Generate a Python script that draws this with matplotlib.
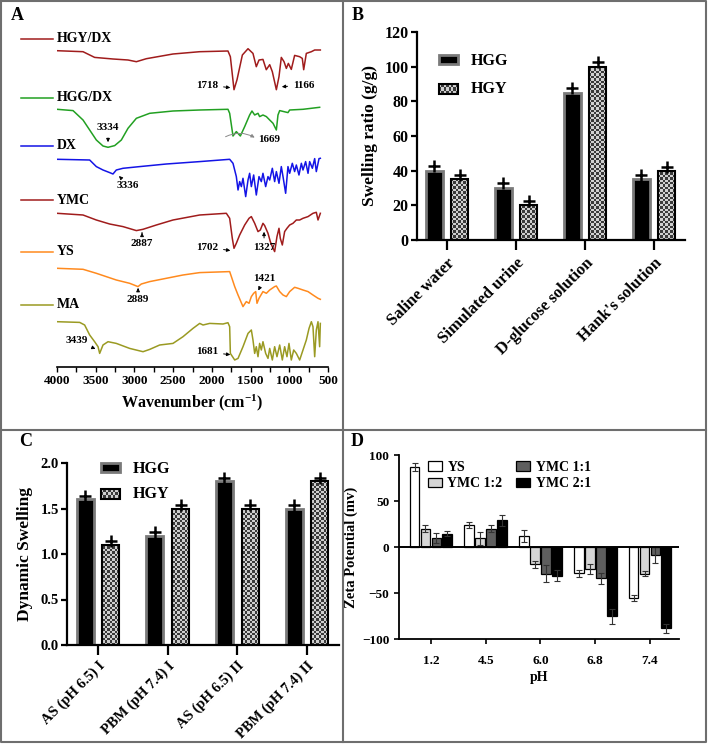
import numpy as np
import matplotlib
matplotlib.use('Agg')
import matplotlib.pyplot as plt
from matplotlib.lines import Line2D
from matplotlib.patches import Rectangle, Patch
from matplotlib.colors import ListedColormap

plt.rcParams['font.family'] = ['Liberation Serif', 'DejaVu Serif']
plt.rcParams['font.weight'] = 'bold'
plt.rcParams['axes.labelweight'] = 'bold'
plt.rcParams['mathtext.fontset'] = 'custom'
plt.rcParams['mathtext.rm'] = 'Liberation Serif:bold'
plt.rcParams['mathtext.default'] = 'rm'

# ---------------- data ----------------
# panel A : FTIR spectra (wavenumber, relative transmittance a.u.)
hgydx_wn = [4000, 3664, 3514, 3277, 3083, 2975, 2846, 2502, 2157, 1792, 1761, 1714, 1675, 1606, 1533,
            1469, 1426, 1391, 1340, 1297, 1253, 1219, 1167, 1133, 1103, 1068, 1038, 1012, 974, 931,
            866, 832, 814, 780, 715, 672, 599]
hgydx_t = [0, -1, -6.7, -8.3, -9.3, -11, -8, -3.3, -1, -0.3, -6, -39, -29, -4.3, 2,
           -2.7, -16, -9.3, -8.7, -19, -14, -21, -39, -26, -6.7, -11, -17.7, -12.7, -18.7, -4.7,
           -6, -7.7, -19, -2.7, -1, 0.7, 0.7]

hggdx_wn = [4000, 3793, 3664, 3578, 3492, 3406, 3341, 3255, 3169, 3083, 2975, 2803, 2502, 2157, 1792,
            1770, 1727, 1684, 1632, 1576, 1512, 1482, 1447, 1404, 1383, 1340, 1296, 1253, 1210, 1167,
            1146, 1124, 1017, 995, 823, 608]
hggdx_t = [0, -1.3, -10.7, -20.7, -30.7, -36.7, -38, -36.3, -30.7, -19, -9, -4, -1.7, -0.7, 0,
           -4, -26.7, -22.3, -26.7, -17.3, -5.7, -1.7, -5.7, -4, -7.3, -5.7, -7.3, -10.7, -14, -20.7,
           -5.7, -1.3, -3.3, -0.7, 0, 2]

dx_wn = [4000, 3578, 3492, 3406, 3320, 3277, 3234, 3148, 2932, 2588, 2157, 1770, 1727, 1684, 1662,
         1641, 1619, 1598, 1563, 1533, 1512, 1490, 1460, 1426, 1391, 1361, 1340, 1305, 1275, 1253,
         1219, 1189, 1167, 1133, 1103, 1081, 1047, 1017, 995, 961, 931, 909, 875, 844, 823,
         789, 758, 737, 702, 672, 651, 616, 599]
dx_t = [0, -0.7, -7.3, -10.7, -13.3, -14.7, -10.7, -9, -7.3, -4.7, -2.3, 0, -4, -17.3, -30.7,
        -22.3, -27.3, -19, -37.3, -20.7, -14, -27.3, -15.7, -35.7, -17.3, -22.3, -14, -27.3, -17.3, -20.7,
        -9, -22.3, -12.3, -24, -7.3, -17.3, -34, -7.3, -14, -4, -12.3, -5.7, -15.7, -4, -10.7,
        -2.3, -14, -2.3, -9, 0.7, -12.3, 0.7, 1]

ymc_wn = [4000, 3664, 3492, 3320, 3148, 2975, 2889, 2717, 2502, 2157, 1813, 1770, 1736, 1714, 1684,
          1641, 1576, 1520, 1490, 1447, 1404, 1374, 1340, 1318, 1275, 1245, 1219, 1189, 1159, 1133,
          1116, 1090, 1060, 1030, 995, 952, 909, 866, 823, 758, 694, 651, 629, 599]
ymc_t = [0, -1.7, -6.7, -10.7, -13.3, -17.3, -16, -11.7, -6.7, -1.7, 0, -5, -25, -35, -30,
         -21.7, -11.7, -5, -3.3, -10, -18.3, -16.7, -10, -12.3, -20, -28.3, -33.3, -38.3, -23.3, -15,
         -25, -31.7, -18.3, -15, -11.7, -10, -6.7, -6.7, -5, -3.3, 0, 1, -6.7, 0]

ys_wn = [4000, 3664, 3492, 3234, 3062, 2954, 2911, 2803, 2588, 2373, 2157, 1770, 1748, 1705, 1662,
         1598, 1555, 1520, 1490, 1460, 1434, 1417, 1391, 1340, 1296, 1253, 1189, 1167, 1124, 1081,
         1038, 995, 931, 887, 823, 758, 694, 629, 599]
ys_t = [0, -1, -5, -11.7, -15, -18.3, -15.7, -13.3, -10, -6.7, -4.3, -3.3, -8.3, -18.3, -26.7,
        -38.3, -33.3, -35, -28.3, -25, -23.3, -35, -30, -23.3, -25, -21.7, -18.3, -17.7, -23.3, -26.7,
        -28.3, -23.3, -19, -20, -21.7, -23.3, -26.7, -30, -31]

ma_wn = [4000, 3707, 3643, 3578, 3514, 3470, 3449, 3406, 3341, 3234, 3062, 2889, 2803, 2674, 2502,
         2373, 2244, 2157, 2114, 2028, 1856, 1792, 1770, 1761, 1705, 1662, 1598, 1533, 1490, 1469,
         1447, 1426, 1404, 1383, 1361, 1340, 1305, 1275, 1253, 1219, 1189, 1159, 1124, 1090, 1060,
         1030, 1004, 974, 943, 909, 866, 823, 780, 745, 715, 694, 672, 651, 629, 608, 599]
ma_t = [0, -0.7, -3.3, -13.3, -20, -25, -31.7, -23.3, -20, -21.7, -26.7, -30, -27.7, -23.3, -21.7,
        -15, -6.7, -1.7, -3.3, -1.7, -2.3, -1, -5, -31.7, -38.3, -36.7, -25, -11.7, -8.3, -18.3,
        -31.7, -25, -35, -21.7, -28.3, -20, -31.7, -36.7, -26.7, -38.3, -25, -35, -23.3, -38.3, -25,
        -35, -21.7, -38.3, -28.3, -31.7, -38.3, -28.3, -18.3, -6.7, 0, -5, -35, -8.3, 0, -25, -1.7]

spec_names = ['HGY/DX', 'HGG/DX', 'DX', 'YMC', 'YS', 'MA']

# panel B : swelling ratio
cats_b = ['Saline water', 'Simulated urine', 'D-glucose solution', "Hank's solution"]
hgg_b = [40, 30, 85, 35]
hgy_b = [35, 20, 100, 40]
hgg_b_err = [2.8, 3, 2.6, 2.6]
hgy_b_err = [2.5, 2.5, 2.5, 2.4]

# panel C : dynamic swelling
cats_c = ['AS (pH 6.5) I', 'PBM (pH 7.4) I', 'AS (pH 6.5) II', 'PBM (pH 7.4) II']
hgg_c = [1.6, 1.2, 1.8, 1.5]
hgy_c = [1.1, 1.5, 1.5, 1.8]
hgg_c_err = [0.04, 0.04, 0.04, 0.04]
hgy_c_err = [0.04, 0.04, 0.04, 0.04]

# panel D : zeta potential
ph = ['1.2', '4.5', '6.0', '6.8', '7.4']
zeta_names = ['YS', 'YMC 1:2', 'YMC 1:1', 'YMC 2:1']
zeta_ys = [87, 24, 12, -28.5, -55.6]
zeta_12 = [20, 9.5, -19, -24, -29]
zeta_11 = [10, 20, -29, -34, -8.7]
zeta_21 = [14.5, 29, -31, -75.5, -88.5]
err_ys = [4.5, 3, 7, 4, 3.5]
err_12 = [3.5, 7, 3.5, 5, 3]
err_11 = [5.5, 3.5, 9, 6, 9]
err_21 = [3, 6, 6, 8.5, 5]

# ---------------- figure ----------------
W, H = 709, 745
fig = plt.figure(figsize=(W / 100, H / 100), dpi=100)


def rect(l, t, r, b):
    return [l / W, 1 - b / H, (r - l) / W, (b - t) / H]


def fx(x):
    return x / W


def fy(y):
    return 1 - y / H


frame = dict(color='#6e6e6e', lw=1.5)
fig.add_artist(Line2D([fx(1), fx(706), fx(706), fx(1), fx(1)],
                      [fy(1), fy(1), fy(742), fy(742), fy(1)], **frame))
fig.add_artist(Line2D([fx(343), fx(343)], [fy(1), fy(742)], **frame))
fig.add_artist(Line2D([fx(1), fx(706)], [fy(430), fy(430)], **frame))

for lab, x, y in [('A', 11, 7), ('B', 352, 7), ('C', 19, 433), ('D', 351, 433)]:
    fig.text(fx(x), fy(y), lab, fontsize=13, va='top', ha='left')

# ---- A ----
axA = fig.add_axes(rect(57, 20, 328, 367))
spectra = [(hgydx_wn, hgydx_t), (hggdx_wn, hggdx_t), (dx_wn, dx_t),
           (ymc_wn, ymc_t), (ys_wn, ys_t), (ma_wn, ma_t)]
colors_a = ['#a01c1c', '#22a022', '#1414e6', '#a01c1c', '#ff8a1e', '#9a9a22']
bases = [50.7, 109.3, 159.3, 213.3, 268.3, 321.7]
label_y = [39, 97.7, 145.7, 200, 251.7, 305]
for (wn, t), c, b, ly, nm in zip(spectra, colors_a, bases, label_y, spec_names):
    axA.plot(wn, np.array(t) - b, color=c, lw=1.1)
    fig.add_artist(Line2D([fx(21), fx(53)], [fy(ly), fy(ly)], color=c, lw=1.1))
    fig.text(fx(57), fy(ly), nm, fontsize=10, va='center', ha='left')
axA.set_xlim(4000, 500)
axA.set_ylim(-367, -20)
for s in ['left', 'right', 'top']:
    axA.spines[s].set_visible(False)
axA.spines['bottom'].set_linewidth(1.2)
axA.set_yticks([])
axA.set_xticks(range(4000, 499, -500))
axA.set_xticks(range(3750, 500, -500), minor=True)
axA.tick_params(axis='x', which='both', direction='out', length=3.5, width=1, labelsize=9.5, pad=2)
axA.set_xlabel('Wavenumber (cm$^{-1}$)', fontsize=11.5, labelpad=4)

arr = dict(arrowstyle='-|>', color='black', lw=0.7, mutation_scale=5)
notes = [('1718', (1726, -88), (1920, -85), 'right'),
         ('1166', (1132, -87), (951, -85), 'left'),
         ('3334', (3341, -145), (3341, -128), 'center'),
         ('3336', (3200, -176), (3083, -185), 'center'),
         ('2887', (2902, -230), (2902, -243), 'center'),
         ('1702', (1726, -251), (1920, -247), 'right'),
         ('1327', (1326, -229), (1326, -248), 'center'),
         ('2889', (2953, -288), (2953, -300), 'center'),
         ('1421', (1416, -293), (1326, -279), 'center'),
         ('3439', (3470, -350), (3742, -341), 'center'),
         ('1681', (1726, -355), (1920, -352), 'right')]
for txt, tip, tpos, ha in notes:
    axA.annotate(txt, xy=tip, xytext=tpos, fontsize=8, ha=ha, va='center', arrowprops=arr)
axA.annotate('1669', xy=(1416, -139), xytext=(1403, -140), fontsize=8, ha='left', va='center')
axA.annotate('', xy=(1416, -139), xytext=(1855, -138),
             arrowprops=dict(arrowstyle='-|>', color='#888888', lw=0.7, mutation_scale=5,
                             connectionstyle='arc3,rad=-0.3'))


# ---- helpers for B and C ----
def checker(ax, bar, cell=2.4):
    x0, y0 = bar.get_x(), bar.get_y()
    w, h = bar.get_width(), bar.get_height()
    p0 = ax.transData.transform((x0, y0))
    p1 = ax.transData.transform((x0 + w, y0 + h))
    nx = max(1, int(round(abs(p1[0] - p0[0]) / cell)))
    ny = max(1, int(round(abs(p1[1] - p0[1]) / cell)))
    grid = np.add.outer(np.arange(ny), np.arange(nx)) % 2
    ax.imshow(grid, extent=(x0, x0 + w, y0, y0 + h), origin='lower', aspect='auto',
              interpolation='nearest', cmap=ListedColormap(['#3a3a3a', '#cfcfcf']), zorder=2)


class CheckerHandler:
    def legend_artist(self, legend, orig_handle, fontsize, handlebox):
        x0, y0 = handlebox.xdescent, handlebox.ydescent
        w, h = handlebox.width, handlebox.height
        nx, ny = 8, 3
        for i in range(nx):
            for j in range(ny):
                c = '#3a3a3a' if (i + j) % 2 else '#cfcfcf'
                handlebox.add_artist(Rectangle((x0 + i * w / nx, y0 + j * h / ny), w / nx, h / ny,
                                               facecolor=c, edgecolor='none',
                                               transform=handlebox.get_transform()))
        border = Rectangle((x0, y0), w, h, facecolor='none', edgecolor='black', lw=1.5,
                           transform=handlebox.get_transform())
        handlebox.add_artist(border)
        return border


def swell_panel(ax, cats, hgg, hgy, e_hgg, e_hgy, xlim, ylim, off, bw, msize):
    x = np.arange(len(cats))
    ax.set_xlim(*xlim)
    ax.set_ylim(*ylim)
    ax.bar(x - off, hgg, bw, color='black', edgecolor='#7a7a7a', linewidth=2, zorder=2)
    bars = ax.bar(x + off, hgy, bw, facecolor='none', edgecolor='black', linewidth=1.5, zorder=3)
    for b in bars:
        checker(ax, b)
    ax.set_xlim(*xlim)
    ax.set_ylim(*ylim)
    ax.plot(x - off, np.array(hgg) + np.array(e_hgg), '+', color='black', ms=msize, mew=1.8, zorder=4,
            clip_on=False)
    ax.plot(x + off, np.array(hgy) + np.array(e_hgy), '+', color='black', ms=msize, mew=1.8, zorder=4,
            clip_on=False)
    for s in ['right', 'top']:
        ax.spines[s].set_visible(False)
    for s in ['left', 'bottom']:
        ax.spines[s].set_linewidth(1.6)
    ax.set_xticks(x)
    ax.tick_params(axis='x', length=7, width=1.6)
    ax.tick_params(axis='y', length=4, width=1.6)
    h1 = Patch(facecolor='black', edgecolor='#7a7a7a', linewidth=2)
    h2 = Patch(facecolor='none', edgecolor='black')
    return [h1, h2], {h2: CheckerHandler()}


# ---- B ----
axB = fig.add_axes(rect(417, 32, 685, 240))
hb, hm = swell_panel(axB, cats_b, hgg_b, hgy_b, hgg_b_err, hgy_b_err,
                     (-0.435, 3.45), (0, 120), 0.185, 0.245, 9)
axB.set_yticks(range(0, 121, 20))
axB.tick_params(axis='y', labelsize=11.5, pad=2)
axB.set_xticklabels(cats_b, rotation=45, ha='right', va='top', rotation_mode='anchor', fontsize=12)
axB.tick_params(axis='x', pad=4)
axB.set_ylabel('Swelling ratio (g/g)', fontsize=12.5, labelpad=5)
axB.legend(hb, ['HGG', 'HGY'], handler_map=hm, loc='upper left', frameon=False,
           bbox_to_anchor=(fx(439), fy(53)), bbox_transform=fig.transFigure,
           fontsize=11.5, handlelength=1.2, handleheight=0.55, handletextpad=0.8,
           labelspacing=0.75, borderpad=0, borderaxespad=0)

# ---- C ----
axC = fig.add_axes(rect(67, 463, 339, 645))
hc, hmc = swell_panel(axC, cats_c, hgg_c, hgy_c, hgg_c_err, hgy_c_err,
                      (-0.445, 3.46), (0, 2.0), 0.185, 0.245, 9)
axC.set_yticks([0, 0.5, 1.0, 1.5, 2.0])
axC.set_yticklabels(['0.0', '0.5', '1.0', '1.5', '2.0'])
axC.tick_params(axis='y', labelsize=10.5, pad=2)
axC.set_xticklabels(cats_c, rotation=45, ha='right', va='top', rotation_mode='anchor', fontsize=10.5)
axC.tick_params(axis='x', pad=3)
axC.set_ylabel('Dynamic Swelling', fontsize=12.5, labelpad=5)
axC.legend(hc, ['HGG', 'HGY'], handler_map=hmc, loc='upper left', frameon=False,
           bbox_to_anchor=(fx(101), fy(461)), bbox_transform=fig.transFigure,
           fontsize=11.5, handlelength=1.2, handleheight=0.55, handletextpad=0.8,
           labelspacing=0.55, borderpad=0, borderaxespad=0)

# ---- D ----
axD = fig.add_axes(rect(399, 455, 679, 639))
xd = np.arange(len(ph))
zvals = [zeta_ys, zeta_12, zeta_11, zeta_21]
zerrs = [err_ys, err_12, err_11, err_21]
zcols = ['white', '#d6d6d6', '#5e5e5e', 'black']
offs = [-0.3, -0.1, 0.1, 0.3]
for v, e, c, o, nm in zip(zvals, zerrs, zcols, offs, zeta_names):
    axD.bar(xd + o, v, 0.18, yerr=e, color=c, edgecolor='black', linewidth=0.9, label=nm,
            capsize=2.2, error_kw=dict(elinewidth=0.8, ecolor='#333333', capthick=0.8), zorder=2)
axD.axhline(0, color='black', lw=1.4, zorder=3)
axD.set_xlim(-0.584, 4.53)
axD.set_ylim(-100, 100)
axD.set_yticks([-100, -50, 0, 50, 100])
axD.set_xticks(xd)
axD.set_xticklabels(ph)
for s in ['right', 'top']:
    axD.spines[s].set_visible(False)
for s in ['left', 'bottom']:
    axD.spines[s].set_linewidth(1.3)
axD.tick_params(axis='both', labelsize=9.5, width=1.2, length=3.5)
axD.tick_params(axis='x', pad=8)
axD.set_xlabel('pH', fontsize=10, labelpad=3)
axD.set_ylabel('Zeta Potential (mv)', fontsize=10.5, labelpad=3)
axD.legend(loc='upper left', ncol=2, frameon=False,
           bbox_to_anchor=(fx(428), fy(461)), bbox_transform=fig.transFigure,
           fontsize=10, handlelength=1.0, handleheight=0.65, handletextpad=0.4,
           labelspacing=0.25, columnspacing=1.0, borderpad=0, borderaxespad=0)

fig.savefig('out.png', dpi=100)
